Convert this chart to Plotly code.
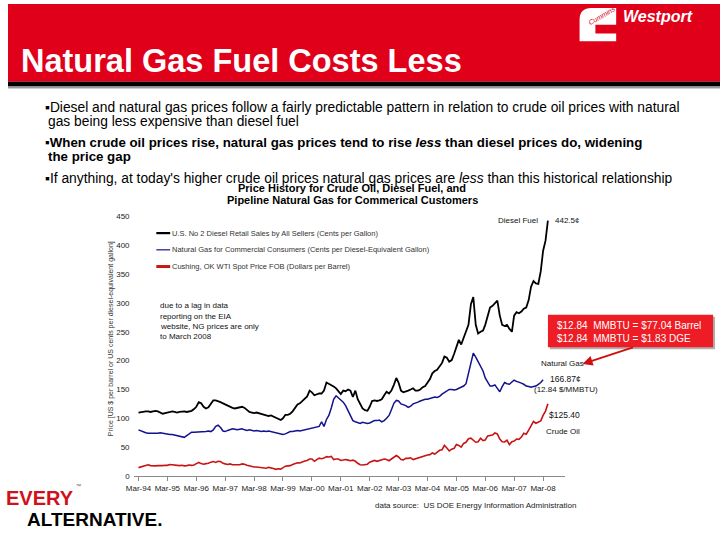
import pandas as pd
import plotly.graph_objects as go

# ---------------- data (monthly, starting Mar-1994) ----------------
diesel_cents = [
    110, 111, 111, 112, 112, 111, 112, 113, 112, 110, 108, 109,
    110, 111, 112, 111, 110, 111, 112, 112, 111, 112, 113, 116,
    120, 128, 126, 120, 117, 119, 125, 131, 131, 130, 128, 126,
    124, 122, 120, 118, 117, 118, 119, 120, 118, 114, 111, 110,
    109, 110, 109, 108, 106, 105, 104, 105, 103, 100, 98, 97,
    100, 106, 106, 108, 112, 118, 124, 126, 130, 134, 138, 148,
    145, 140, 142, 143, 143, 148, 162, 160, 158, 155, 152, 146,
    142, 148, 147, 150, 148, 137, 148, 133, 125, 117, 114, 113,
    120, 130, 131, 130, 131, 133, 140, 146, 143, 148, 158, 170,
    162, 148, 145, 146, 148, 150, 152, 148, 148, 150, 154, 156,
    162, 168, 178, 182, 184, 190, 196, 207, 205, 198, 201, 212,
    225, 236, 228, 240, 248, 262, 298, 310, 262, 247, 250, 252,
    262, 280, 292, 295, 300, 304, 278, 262, 260, 262, 255, 250,
    278, 284, 282, 285, 290, 292, 305, 328, 338, 334, 333, 355,
    390, 408, 442.5,
]
natgas_cents_dge = [
    80, 78, 76, 75, 74, 74, 73, 74, 74, 75, 74, 73,
    73, 72, 72, 71, 70, 69, 68, 67, 70, 73, 76, 76,
    76, 77, 77, 76, 77, 78, 77, 80, 86, 88, 84, 78,
    77, 79, 81, 82, 81, 80, 81, 82, 80, 79, 80, 79,
    78, 79, 78, 77, 78, 77, 78, 77, 76, 75, 74, 74,
    72, 73, 75, 77, 77, 78, 79, 78, 79, 80, 80, 82,
    82, 83, 85, 86, 94, 86, 98, 105, 118, 133, 139, 135,
    131, 128, 122, 114, 106, 96, 94, 93, 91, 93, 92, 91,
    92, 94, 96, 96, 97, 94, 96, 100, 105, 115, 126, 131,
    130, 125, 124, 122, 119, 121, 125, 126, 128, 130, 132, 133,
    133, 134, 135, 137, 136, 138, 142, 145, 147, 150, 150, 149,
    150, 152, 154, 156, 160, 178, 200, 213, 206, 198, 188, 182,
    170, 162, 156, 156, 158, 152, 146, 155, 162, 160, 159, 163,
    166, 164, 163, 161, 159, 156, 155, 154, 155, 156, 159, 162,
    166.87,
]
crude_dollars = [
    14.5, 16, 17.5, 18.5, 19.5, 18, 17.5, 17.5, 18, 17.5, 18, 18.5,
    18.5, 20, 19.5, 18.5, 17.5, 18, 18.5, 17.5, 18, 19, 18.5, 19,
    21.5, 23.5, 21.5, 20.5, 21.5, 22, 24, 25, 23.5, 25.5, 25, 22,
    21, 20, 21, 19.5, 19.5, 19.5, 19.5, 21, 20.5, 18.5, 17, 16,
    15.5, 15.5, 15, 13.5, 14, 13.5, 15, 14.5, 13, 11.5, 12.5, 12,
    14.5, 17, 17.5, 18, 20, 21.5, 23, 22.5, 25, 26, 27, 29.5,
    29.5, 25.5, 28.5, 31, 30, 31, 33.5, 33, 34, 28.5, 29.5, 29.5,
    27, 27.5, 28.5, 27.5, 26.5, 27.5, 25.5, 22, 19.5, 19, 19.5, 20.5,
    24, 26, 27, 25.5, 27, 28.5, 29.5, 28.5, 26.5, 29.5, 33, 35.5,
    33, 28.5, 28, 30.5, 30.5, 31.5, 28.5, 30, 31, 32.5, 34, 35,
    36.5, 37, 40, 38, 40.5, 44.5, 45.5, 53, 48.5, 43.5, 46.5, 48,
    54.5, 53, 50, 56.5, 58.5, 64.5, 65.5, 62.5, 58.5, 59.5, 65.5, 61.5,
    62.5, 69.5, 70.5, 71, 74.5, 73, 64, 59.5, 59, 62, 54.5, 59.5,
    60.5, 64, 63.5, 67.5, 74, 72.5, 79.5, 86, 94.5, 91.5, 93, 95.5,
    105, 112.5, 125.4,
]
start_month = "1994-03-01"
tick_years = list(range(1994, 2009))
tick_labels = ["Mar-%02d" % (y % 100) for y in tick_years]
y_ticks = list(range(0, 451, 50))

legend_names = [
    "U.S. No 2 Diesel Retail Sales by All Sellers (Cents per Gallon)",
    "Natural Gas for Commercial Consumers (Cents per Diesel-Equivalent Gallon)",
    "Cushing, OK WTI Spot Price FOB (Dollars per Barrel)",
]

# ---------------- helpers ----------------
W, H = 720, 540


def px(x):
    return x / W


def py(y):
    return 1 - y / H


def dates(n):
    return pd.date_range(start_month, periods=n, freq="MS")


SANS = "Liberation Sans, Arial, sans-serif"

BLACK = "#000000"
BLUE = "#12128f"
RED = "#c81414"

fig = go.Figure()
fig.add_trace(go.Scatter(x=dates(len(diesel_cents)), y=diesel_cents, mode="lines",
                         line=dict(color=BLACK, width=1.8), name=legend_names[0]))
fig.add_trace(go.Scatter(x=dates(len(natgas_cents_dge)), y=natgas_cents_dge, mode="lines",
                         line=dict(color=BLUE, width=1.5), name=legend_names[1]))
fig.add_trace(go.Scatter(x=dates(len(crude_dollars)), y=crude_dollars, mode="lines",
                         line=dict(color=RED, width=1.6), name=legend_names[2]))

shapes = []
annotations = []


def ann(text, x, y, size, color="#000", xanchor="left", family=SANS, **kw):
    annotations.append(dict(text=text, x=px(x), y=py(y), xref="paper", yref="paper",
                            xanchor=xanchor, yanchor="middle", showarrow=False,
                            font=dict(size=size, color=color, family=family), **kw))


def rect(x0, y0, x1, y1, color, layer="below"):
    shapes.append(dict(type="rect", xref="paper", yref="paper",
                       x0=px(x0), x1=px(x1), y0=py(y1), y1=py(y0),
                       fillcolor=color, line=dict(width=0), layer=layer))


# header band
rect(0, 0, 720, 79, "#e1001a")
rect(0, 79, 720, 84, "#000000")
rect(0, 84, 720, 86, "#9a9a9a")
ann("<b>Natural Gas Fuel Costs Less</b>", 11, 58, 32.5, "#ffffff")
ann("<b><i>Westport</i></b>", 620, 13, 16, "#ffffff")
# Cummins-style C mark
c_path = ("M {a},{t} L {d},{t} Q {l},{t} {l},{m} L {l},{b} L {a},{b} L {a},{lo} "
          "L {c},{lo} L {c},{hi} L {a},{hi} Z").format(
    a=px(615), d=px(590), l=px(578), c=px(594),
    t=py(4), m=py(16), b=py(38), lo=py(30), hi=py(21))
shapes.append(dict(type="path", path=c_path, xref="paper", yref="paper",
                   fillcolor="#ffffff", line=dict(width=0)))
ann("<i>Cummins</i>", 601, 12, 7, "#e1001a", xanchor="center", textangle=-30)

# bullets
ann("▪Diesel and natural gas prices follow a fairly predictable pattern in relation to crude oil prices with natural", 35, 105, 13.8)
ann("gas being less expensive than diesel fuel", 38, 119, 13.8)
ann("<b>▪When crude oil prices rise, natural gas prices tend to rise <i>less</i> than diesel prices do, widening</b>", 35, 141, 13.3)
ann("<b>the price gap</b>", 38, 155, 13.3)
ann("▪If anything, at today's higher crude oil prices natural gas prices are <i>less</i> than this historical relationship", 35, 177, 13.8)

# chart title
ann("<b>Price History for Crude Oil, Diesel Fuel, and</b>", 348, 187, 11, xanchor="center")
ann("<b>Pipeline Natural Gas for Commerical Customers</b>", 348, 199.5, 11, xanchor="center")

# legend (drawn manually)
for yy, col, lw, name in [(233, BLACK, 2.2, legend_names[0]), (250, BLUE, 1.2, legend_names[1]),
                          (267, RED, 3, legend_names[2])]:
    shapes.append(dict(type="line", xref="paper", yref="paper", x0=px(150), x1=px(164),
                       y0=py(yy), y1=py(yy), line=dict(color=col, width=lw)))
    ann(name, 164, yy, 7.5, "#333333")

# y-axis title
ann("Price [US $ per barrel or US cents per diesel-equivalent gallon]", 105, 340, 7, "#333333",
    xanchor="center", textangle=-90)

# note on lag
for i, line in enumerate(["due to a lag in data", "reporting on the EIA",
                          "website, NG prices are only", "to March 2008"]):
    ann(line, 152, 307 + i * 10.5, 8, "#111111")

# series end labels
ann("Diesel Fuel", 538, 220, 8, "#111111", xanchor="right")
ann("442.5¢", 551, 220, 8, "#111111")
ann("Natural Gas", 537, 366, 8, "#111111")
ann("166.87¢", 546, 381, 8.5, "#111111")
ann("(12.84 $/MMBTU)", 530, 392, 8, "#111111")
ann("$125.40", 545, 418, 8.5, "#111111")
ann("Crude Oil", 542, 435, 8, "#111111")

# red callout box
rect(548, 318, 715, 351, "#b0b0b0", layer="above")
rect(546, 316, 713, 349, "#ee1c24", layer="above")
ann("$12.84  MMBTU = $77.04 Barrel", 553, 327, 10, "#ffffff")
ann("$12.84  MMBTU = $1.83 DGE", 553, 340, 10, "#ffffff")
annotations.append(dict(text="", x=px(581), y=py(366), xref="paper", yref="paper",
                        showarrow=True, ax=52, ay=-17, arrowcolor="#d01010",
                        arrowwidth=2, arrowhead=2, arrowsize=1))

# source
ann("data source:  US DOE Energy Information Administration", 369, 510, 8, "#222222")

# bottom-left logo
ann("<b>EVERY</b>", -4, 502, 20, "#d0101b")
ann("™", 67, 490, 5.5, "#555555")
ann("<b>ALTERNATIVE.</b>", 17, 524, 19, "#000000")

fig.update_layout(
    width=W, height=H,
    margin=dict(l=0, r=0, t=0, b=0),
    paper_bgcolor="#ffffff", plot_bgcolor="#ffffff",
    showlegend=False,
    font=dict(family=SANS, size=8, color="#222222"),
    shapes=shapes, annotations=annotations,
    xaxis=dict(type="date", domain=[px(127), px(563)],
               range=["1993-12-29", "2008-11-30"],
               tickvals=["%d-03-01" % y for y in tick_years], ticktext=tick_labels,
               tickfont=dict(size=8, color="#222222"),
               showline=True, linecolor="#8a8a8a", linewidth=1,
               ticks="outside", ticklen=4, tickcolor="#8a8a8a",
               showgrid=False, zeroline=False),
    yaxis=dict(domain=[py(480), py(216)], range=[0, 450],
               tickvals=y_ticks, tickfont=dict(size=8, color="#222222"),
               showline=False, ticks="", showgrid=False, zeroline=False,
               ticklabelstandoff=3),
)

fig.write_html("out.html", config={"displayModeBar": False},
               post_script="document.body.style.margin='0px';document.body.style.padding='0px';")
